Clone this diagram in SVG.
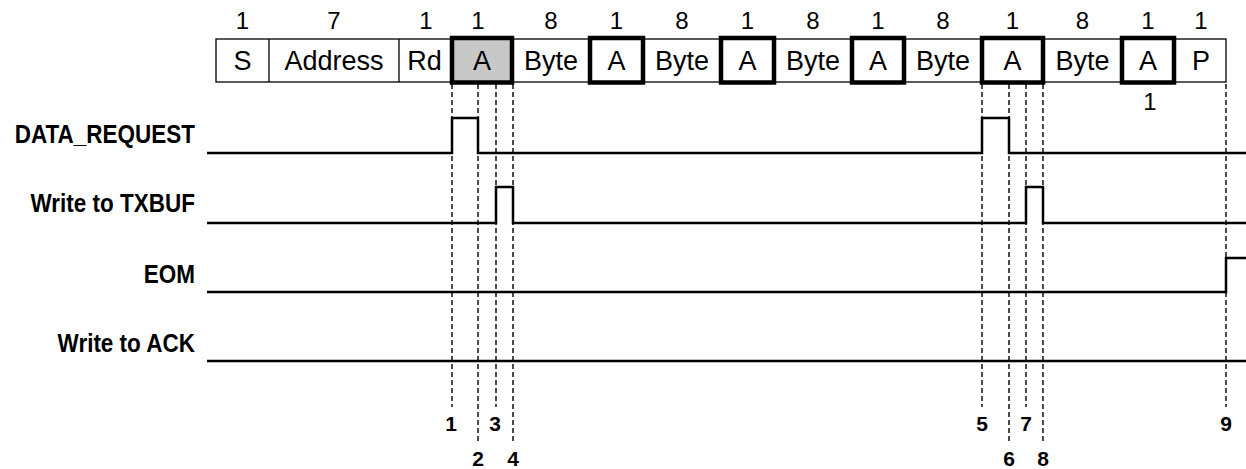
<svg xmlns="http://www.w3.org/2000/svg" width="1246" height="469" viewBox="0 0 1246 469">
<style>
text{font-family:"Liberation Sans",Arial,sans-serif;fill:#000}
.num{font-size:24px;text-anchor:middle}
.fld{font-size:27px;text-anchor:middle}
.lbl{font-size:22.5px;font-weight:bold;text-anchor:end}
.mk{font-size:21px;font-weight:bold;text-anchor:middle}
.thin{fill:none;stroke:#000;stroke-width:1.3}
.thick{fill:none;stroke:#000;stroke-width:4.5}
.sig{fill:none;stroke:#000;stroke-width:2.5}
.dash{fill:none;stroke:#000;stroke-width:1.4;stroke-dasharray:5,3}
</style>
<g id="frame">
<rect x="216" y="39" width="1010" height="43" fill="#fff" class="thin"/>
<rect x="452" y="38" width="60" height="44.5" fill="#c8c8c8" stroke="none"/>
<line x1="269" y1="39" x2="269" y2="82" class="thin"/>
<line x1="399" y1="39" x2="399" y2="82" class="thin"/>
<rect x="452" y="38" width="60" height="44.5" class="thick"/>
<rect x="590" y="38" width="53" height="44.5" class="thick"/>
<rect x="721" y="38" width="53" height="44.5" class="thick"/>
<rect x="852" y="38" width="52" height="44.5" class="thick"/>
<rect x="982" y="38" width="61" height="44.5" class="thick"/>
<rect x="1122" y="38" width="52" height="44.5" class="thick"/>
</g>
<g id="fields">
<text class="fld" x="242.5" y="70">S</text>
<text class="fld" x="334" y="70">Address</text>
<text class="fld" x="424.5" y="70">Rd</text>
<text class="fld" x="482" y="70">A</text>
<text class="fld" x="551" y="70">Byte</text>
<text class="fld" x="616.5" y="70">A</text>
<text class="fld" x="682" y="70">Byte</text>
<text class="fld" x="747.5" y="70">A</text>
<text class="fld" x="813" y="70">Byte</text>
<text class="fld" x="878" y="70">A</text>
<text class="fld" x="943" y="70">Byte</text>
<text class="fld" x="1012.5" y="70">A</text>
<text class="fld" x="1082.5" y="70">Byte</text>
<text class="fld" x="1148" y="70">A</text>
<text class="fld" x="1201" y="70">P</text>
</g>
<g id="widths">
<text class="num" x="242.5" y="29">1</text>
<text class="num" x="334" y="29">7</text>
<text class="num" x="426" y="29">1</text>
<text class="num" x="478" y="29">1</text>
<text class="num" x="551" y="29">8</text>
<text class="num" x="616.5" y="29">1</text>
<text class="num" x="682" y="29">8</text>
<text class="num" x="747.5" y="29">1</text>
<text class="num" x="813" y="29">8</text>
<text class="num" x="878" y="29">1</text>
<text class="num" x="943" y="29">8</text>
<text class="num" x="1012.5" y="29">1</text>
<text class="num" x="1082.5" y="29">8</text>
<text class="num" x="1148" y="29">1</text>
<text class="num" x="1201" y="29">1</text>
<text class="num" x="1150" y="110">1</text>
</g>
<g id="labels">
<text class="lbl" x="195" y="143" transform="matrix(1,0,0,1.12,0,-17.16)">DATA_REQUEST</text>
<text class="lbl" x="195" y="212" transform="matrix(1,0,0,1.12,0,-25.44)">Write to TXBUF</text>
<text class="lbl" x="195" y="283" transform="matrix(1,0,0,1.12,0,-33.96)">EOM</text>
<text class="lbl" x="195" y="352" transform="matrix(1,0,0,1.12,0,-42.24)">Write to ACK</text>
</g>
<g id="connectors">
<line x1="452" y1="84" x2="452" y2="407" class="dash"/>
<line x1="478" y1="84" x2="478" y2="442" class="dash"/>
<line x1="496" y1="84" x2="496" y2="407" class="dash"/>
<line x1="513" y1="84" x2="513" y2="442" class="dash"/>
<line x1="982" y1="84" x2="982" y2="407" class="dash"/>
<line x1="1009" y1="84" x2="1009" y2="442" class="dash"/>
<line x1="1026" y1="84" x2="1026" y2="407" class="dash"/>
<line x1="1043" y1="84" x2="1043" y2="442" class="dash"/>
<line x1="1226" y1="84" x2="1226" y2="407" class="dash"/>
<polyline class="sig" points="207,153 452,153 452,118 478,118 478,153 982,153 982,118 1009,118 1009,153 1246,153"/>
<polyline class="sig" points="207,223 496,223 496,187 513,187 513,223 1026,223 1026,187 1043,187 1043,223 1246,223"/>
<polyline class="sig" points="207,292 1226,292 1226,258 1246,258"/>
<polyline class="sig" points="207,361 1246,361"/>
</g>
<g id="markers">
<text class="mk" x="451" y="431">1</text>
<text class="mk" x="478" y="466">2</text>
<text class="mk" x="495" y="431">3</text>
<text class="mk" x="513" y="466">4</text>
<text class="mk" x="982" y="431">5</text>
<text class="mk" x="1009" y="466">6</text>
<text class="mk" x="1026" y="431">7</text>
<text class="mk" x="1043" y="466">8</text>
<text class="mk" x="1226" y="431">9</text>
</g>
</svg>
